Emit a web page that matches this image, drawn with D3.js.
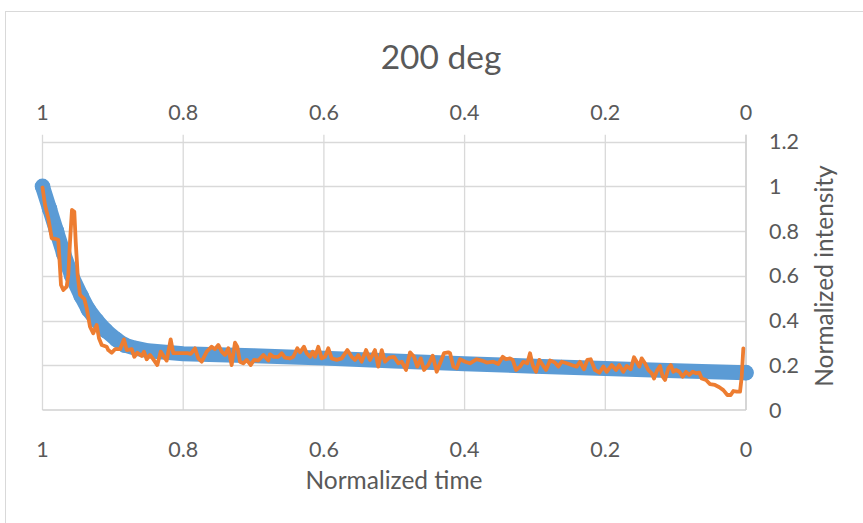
<!DOCTYPE html>
<html>
<head>
<meta charset="utf-8">
<script src="https://cdn.jsdelivr.net/npm/d3@7/dist/d3.min.js"></script>
<style>
  html, body { margin: 0; padding: 0; background: #fff; }
  svg { display: block; }
  text { font-family: Lato, "Open Sans", sans-serif; fill: #595959; }
</style>
</head>
<body>
<svg id="chart" width="863" height="523"></svg>
<script>
// Axis ticks
const xTicks = [1, 0.8, 0.6, 0.4, 0.2, 0];
const xTickLabels = ["1", "0.8", "0.6", "0.4", "0.2", "0"];
const yTicks = [0, 0.2, 0.4, 0.6, 0.8, 1, 1.2];
const yTickLabels = ["0", "0.2", "0.4", "0.6", "0.8", "1", "1.2"];

// Fitted decay (blue band)
const fitTime = [1.0, 0.99, 0.98, 0.97, 0.9585, 0.945, 0.935, 0.923, 0.91, 0.895, 0.883, 0.87, 0.85, 0.80, 0.70, 0.60, 0.50, 0.40, 0.30, 0.20, 0.10, 0.0];
const fitIntensity = [1.0, 0.90, 0.80, 0.70, 0.60, 0.51, 0.45, 0.40, 0.355, 0.315, 0.29, 0.278, 0.265, 0.252, 0.243, 0.232, 0.219, 0.207, 0.196, 0.186, 0.176, 0.167];

// Measured intensity (orange trace)
const measTime = [
  1.000, 0.9964, 0.9918, 0.9869, 0.9812, 0.9775, 0.9737, 0.9704, 0.9656, 0.9633,
  0.9609, 0.9581, 0.9548, 0.9528, 0.9500, 0.9467, 0.9406, 0.9372, 0.9325, 0.9278,
  0.9230, 0.9197, 0.9158, 0.9087, 0.9065, 0.9016, 0.8969, 0.8898, 0.8842, 0.8803,
  0.8732, 0.8695, 0.8652, 0.8590, 0.8557, 0.8519, 0.8472, 0.8434, 0.8368, 0.8320,
  0.8273, 0.8235, 0.8178, 0.8141, 0.8092, 0.7942, 0.7893, 0.7832, 0.7785, 0.7737,
  0.7666, 0.7595, 0.7548, 0.7501, 0.7453, 0.7406, 0.7359, 0.7311, 0.7264, 0.7231,
  0.7193, 0.7146, 0.7097, 0.7040, 0.6994, 0.6932, 0.6861, 0.6790, 0.6766, 0.6719,
  0.6648, 0.6600, 0.6553, 0.6482, 0.6435, 0.6378, 0.6340, 0.6283, 0.6245, 0.6198,
  0.6159, 0.6126, 0.6080, 0.6031, 0.5984, 0.5937, 0.5889, 0.5818, 0.5747, 0.5667,
  0.5605, 0.5558, 0.5511, 0.5463, 0.5401, 0.5345, 0.5274, 0.5227, 0.5178, 0.5131,
  0.5070, 0.5004, 0.4942, 0.4894, 0.4833, 0.4776, 0.4719, 0.4672, 0.4624, 0.4577,
  0.4516, 0.4453, 0.4397, 0.4340, 0.4293, 0.4232, 0.4207, 0.4160, 0.4112, 0.4065,
  0.3994, 0.3923, 0.3828, 0.3757, 0.3686, 0.3592, 0.3521, 0.3458, 0.3411, 0.3355,
  0.3316, 0.3269, 0.3212, 0.3165, 0.3109, 0.3070, 0.3032, 0.2985, 0.2938, 0.2890,
  0.2843, 0.2786, 0.2715, 0.2668, 0.2620, 0.2549, 0.2478, 0.2407, 0.2360, 0.2303,
  0.2256, 0.2208, 0.2147, 0.2085, 0.2028, 0.1980, 0.1909, 0.1848, 0.1801, 0.1744,
  0.1696, 0.1639, 0.1592, 0.1554, 0.1517, 0.1483, 0.1436, 0.1389, 0.1340, 0.1308,
  0.1261, 0.1223, 0.1184, 0.1151, 0.1104, 0.1070, 0.1033, 0.0995, 0.0948, 0.0900,
  0.0853, 0.0806, 0.0758, 0.0711, 0.0664, 0.0630, 0.0568, 0.0512, 0.0441, 0.0379,
  0.0322, 0.0265, 0.0217, 0.0180, 0.0132, 0.0085, 0.0061, 0.0038
];
const measIntensity = [
  0.995, 0.917, 0.858, 0.768, 0.765, 0.761, 0.559, 0.537, 0.552, 0.604,
  0.753, 0.895, 0.887, 0.753, 0.604, 0.515, 0.497, 0.455, 0.373, 0.343,
  0.380, 0.321, 0.291, 0.283, 0.268, 0.256, 0.272, 0.272, 0.316, 0.268,
  0.272, 0.238, 0.256, 0.242, 0.261, 0.227, 0.246, 0.231, 0.201, 0.261,
  0.238, 0.221, 0.316, 0.254, 0.254, 0.254, 0.251, 0.276, 0.231, 0.216,
  0.261, 0.283, 0.272, 0.291, 0.261, 0.246, 0.276, 0.201, 0.301, 0.283,
  0.216, 0.209, 0.224, 0.201, 0.224, 0.221, 0.246, 0.221, 0.249, 0.238,
  0.238, 0.254, 0.234, 0.231, 0.238, 0.276, 0.258, 0.283, 0.254, 0.238,
  0.261, 0.238, 0.283, 0.231, 0.238, 0.276, 0.231, 0.224, 0.231, 0.268,
  0.238, 0.224, 0.246, 0.216, 0.268, 0.224, 0.268, 0.194, 0.268, 0.216,
  0.234, 0.238, 0.209, 0.216, 0.179, 0.258, 0.238, 0.194, 0.231, 0.179,
  0.201, 0.243, 0.171, 0.216, 0.254, 0.258, 0.254, 0.194, 0.187, 0.227,
  0.216, 0.209, 0.227, 0.221, 0.212, 0.216, 0.206, 0.238, 0.227, 0.231,
  0.224, 0.179, 0.194, 0.216, 0.209, 0.254, 0.201, 0.171, 0.224, 0.201,
  0.179, 0.221, 0.212, 0.194, 0.216, 0.209, 0.201, 0.194, 0.216, 0.182,
  0.224, 0.227, 0.179, 0.167, 0.195, 0.171, 0.201, 0.179, 0.201, 0.171,
  0.197, 0.182, 0.236, 0.216, 0.194, 0.231, 0.209, 0.179, 0.164, 0.141,
  0.179, 0.197, 0.149, 0.134, 0.187, 0.201, 0.171, 0.179, 0.171, 0.149,
  0.171, 0.157, 0.171, 0.164, 0.167, 0.141, 0.134, 0.116, 0.112, 0.102,
  0.089, 0.067, 0.067, 0.085, 0.082, 0.082, 0.149, 0.276
];

const svg = d3.select("#chart");
const W = 863, H = 523;

// Chart area frame
svg.append("rect")
  .attr("x", 5.5).attr("y", 11.5)
  .attr("width", W + 10).attr("height", H + 10)
  .attr("fill", "#fff").attr("stroke", "#D9D9D9").attr("stroke-width", 1);

const x = d3.scaleLinear().domain([1, 0]).range([42.5, 746]);
const y = d3.scaleLinear().domain([0, 1.2]).range([410, 141.7]);

const grid = svg.append("g");

// Horizontal gridlines
grid.selectAll("line.h").data(yTicks.slice(1)).join("line")
  .attr("class", "h")
  .attr("x1", x(1)).attr("x2", x(0))
  .attr("y1", d => Math.round(y(d)) + 0.5).attr("y2", d => Math.round(y(d)) + 0.5)
  .attr("stroke", "#D9D9D9").attr("stroke-width", 1.3);

// Vertical gridlines, reaching a little above the plot as top-axis ticks
grid.selectAll("line.v").data(xTicks).join("line")
  .attr("class", "v")
  .attr("x1", d => x(d)).attr("x2", d => x(d))
  .attr("y1", y(1.2) - 7).attr("y2", y(0))
  .attr("stroke", "#D9D9D9").attr("stroke-width", 1.3);

// Bottom axis line and right axis line
grid.append("line")
  .attr("x1", x(1)).attr("x2", x(0))
  .attr("y1", y(0)).attr("y2", y(0))
  .attr("stroke", "#D0D0D0").attr("stroke-width", 1.5);
grid.append("line")
  .attr("x1", x(0)).attr("x2", x(0))
  .attr("y1", y(1.2) - 7).attr("y2", y(0))
  .attr("stroke", "#D0D0D0").attr("stroke-width", 1.5);

// Title
svg.append("text")
  .attr("x", 441).attr("y", 69)
  .attr("text-anchor", "middle")
  .style("font-size", "33.5px")
  .text("200 deg");

// Top tick labels
svg.append("g").selectAll("text").data(xTicks).join("text")
  .attr("x", d => x(d)).attr("y", 120)
  .attr("text-anchor", "middle")
  .style("font-size", "21.5px")
  .text((d, i) => xTickLabels[i]);

// Bottom tick labels
svg.append("g").selectAll("text").data(xTicks).join("text")
  .attr("x", d => x(d)).attr("y", 457)
  .attr("text-anchor", "middle")
  .style("font-size", "21.5px")
  .text((d, i) => xTickLabels[i]);

// Right tick labels
svg.append("g").selectAll("text").data(yTicks).join("text")
  .attr("x", 769).attr("y", d => y(d) + 7.5)
  .attr("text-anchor", "start")
  .style("font-size", "21.5px")
  .text((d, i) => yTickLabels[i]);

// Axis titles
svg.append("text")
  .attr("x", 394).attr("y", 489)
  .attr("text-anchor", "middle")
  .style("font-size", "24.5px")
  .text("Normalized time");

svg.append("text")
  .attr("transform", "translate(833,276) rotate(-90)")
  .attr("text-anchor", "middle")
  .style("font-size", "24.5px")
  .text("Normalized intensity");

// Fitted decay: thick marker band
const fit = fitTime.map((t, i) => ({ t, v: fitIntensity[i] }));
const line = d3.line().x(d => x(d.t)).y(d => y(d.v));
svg.append("path")
  .datum(fit)
  .attr("d", line)
  .attr("fill", "none")
  .attr("stroke", "#5B9BD5")
  .attr("stroke-width", 15)
  .attr("stroke-linecap", "round")
  .attr("stroke-linejoin", "round");
svg.append("g").selectAll("circle").data(fit.filter(d => d.t > 0.87 || d.t === 0)).join("circle")
  .attr("cx", d => x(d.t)).attr("cy", d => y(d.v))
  .attr("r", 7.8)
  .attr("fill", "#5B9BD5");

// Measured trace
const meas = measTime.map((t, i) => ({ t, v: measIntensity[i] }));
svg.append("path")
  .datum(meas)
  .attr("d", line)
  .attr("fill", "none")
  .attr("stroke", "#ED7D31")
  .attr("stroke-width", 3.8)
  .attr("stroke-linecap", "round")
  .attr("stroke-linejoin", "round");
</script>
</body>
</html>
